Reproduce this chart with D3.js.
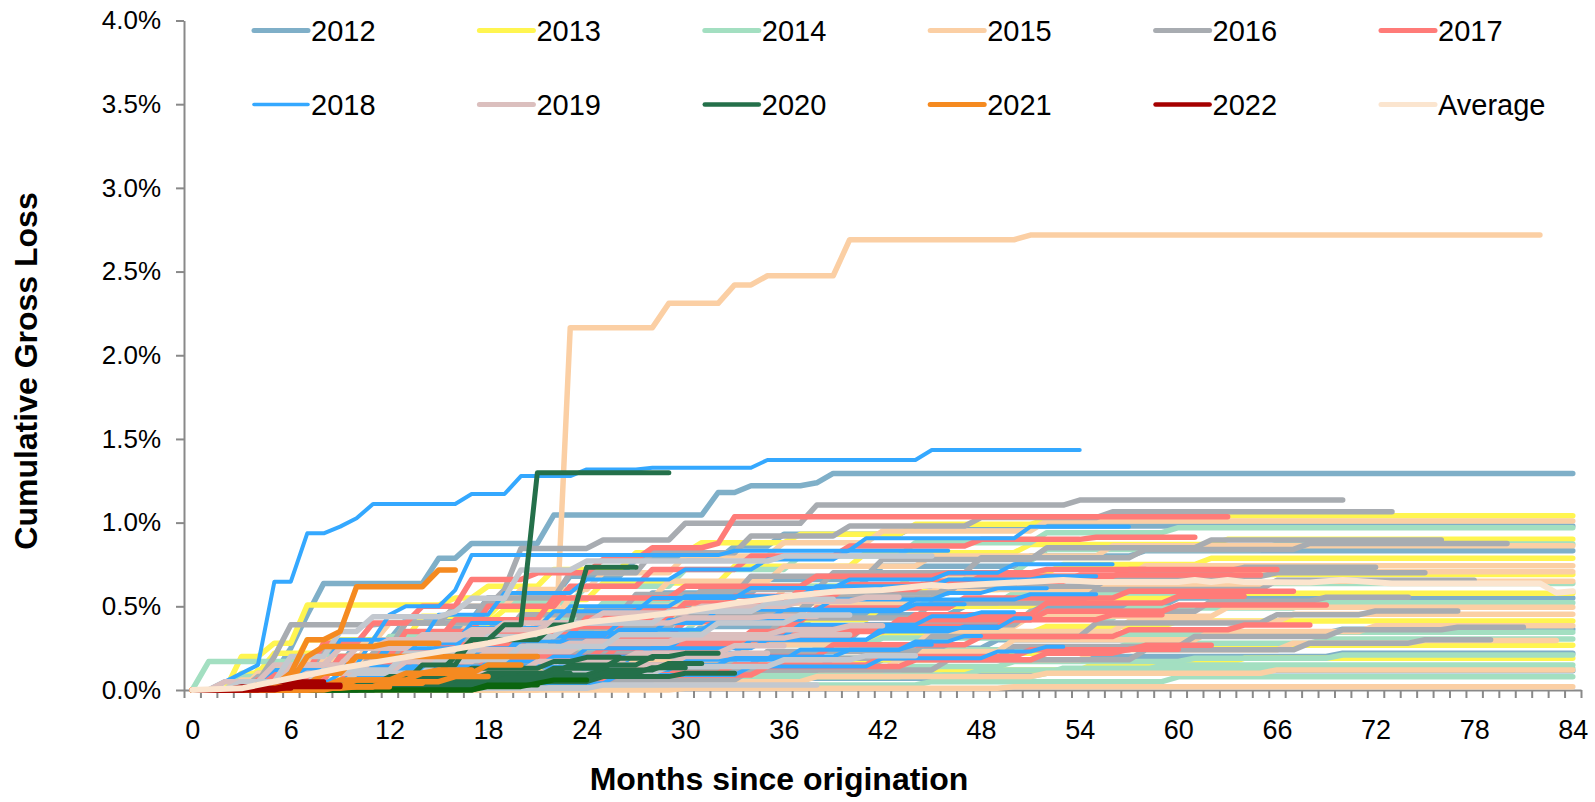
<!DOCTYPE html>
<html>
<head>
<meta charset="utf-8">
<script src="https://cdn.jsdelivr.net/npm/d3@7/dist/d3.min.js"></script>
<style>
  body { margin: 0; background: #fff; }
  #chart svg { display: block; }
  .loss-chart text { font-family: "Liberation Sans", Arial, sans-serif; fill: #000; }
  .loss-chart__axis path, .loss-chart__axis line { stroke: #898989; stroke-width: 2; }
  .loss-chart__curve { fill: none; stroke-linecap: round; stroke-linejoin: round; }
</style>
</head>
<body>
<div id="chart"></div>
<script>
// one entry per monthly vintage: [last month observed, [[month, cumulative loss % reached at that month], ...]]
// loss starts at 0 in month 0 and stays flat between the listed moves
const vint2012 = [
  [84, [[4, 0.1], [6, 0.25], [7, 0.45], [8, 0.637], [15, 0.787], [17, 0.876], [22, 1.045], [32, 1.18], [34, 1.22], [38, 1.238], [39, 1.294]]],
  [84, [[3, 0.08], [6, 0.18], [9, 0.3], [13, 0.42], [18, 0.55], [23, 0.68], [27, 0.78], [33, 0.86], [36, 0.93], [44, 0.98]]],
  [84, [[2, 0.05], [5, 0.15], [10, 0.28], [16, 0.38], [21, 0.47], [28, 0.58], [35, 0.66], [42, 0.74], [51, 0.8], [58, 0.832]]],
  [84, [[5, 0.05], [11, 0.14], [17, 0.22], [24, 0.3], [31, 0.38], [38, 0.45], [47, 0.5], [60, 0.55]]],
  [84, [[6, 0.03], [13, 0.07], [21, 0.13], [29, 0.19], [38, 0.25], [49, 0.3], [61, 0.34], [70, 0.363]]],
  [84, [[8, 0.04], [18, 0.09], [30, 0.14], [42, 0.18], [55, 0.2], [70, 0.22]]],
  [84, [[9, 0.02], [22, 0.04], [34, 0.07], [46, 0.1], [57, 0.115]]]
];
const vint2013 = [
  [84, [[3, 0.2], [5, 0.28], [7, 0.508], [16, 0.55], [18, 0.62], [22, 0.72], [27, 0.82], [31, 0.88], [37, 0.93], [44, 0.99], [52, 1.02], [61, 1.041]]],
  [84, [[3, 0.1], [5, 0.22], [9, 0.3], [14, 0.44], [19, 0.54], [25, 0.64], [33, 0.74], [41, 0.82], [51, 0.87], [63, 0.9]]],
  [84, [[4, 0.12], [7, 0.3], [12, 0.4], [19, 0.48], [26, 0.55], [34, 0.62], [44, 0.7], [53, 0.75], [62, 0.787]]],
  [84, [[4, 0.08], [9, 0.2], [15, 0.32], [22, 0.42], [30, 0.52], [40, 0.6], [50, 0.66], [58, 0.69]]],
  [84, [[5, 0.05], [10, 0.15], [16, 0.25], [24, 0.35], [32, 0.42], [42, 0.5], [52, 0.55], [60, 0.578]]],
  [84, [[6, 0.05], [14, 0.12], [22, 0.2], [32, 0.28], [42, 0.34], [52, 0.38], [60, 0.412]]],
  [84, [[8, 0.02], [16, 0.06], [26, 0.12], [36, 0.18], [46, 0.22], [56, 0.25], [64, 0.267]]],
  [84, [[10, 0.01], [22, 0.04], [33, 0.08], [44, 0.12], [55, 0.16], [64, 0.189]]]
];
const vint2014 = [
  [84, [[4, 0.1], [8, 0.25], [13, 0.4], [18, 0.52], [24, 0.62], [30, 0.72], [37, 0.8], [44, 0.88], [52, 0.94], [60, 0.97]]],
  [84, [[3, 0.08], [7, 0.2], [12, 0.32], [18, 0.42], [25, 0.52], [33, 0.62], [41, 0.7], [51, 0.77], [52, 0.84], [66, 0.872]]],
  [84, [[5, 0.06], [10, 0.15], [16, 0.25], [23, 0.35], [31, 0.44], [40, 0.52], [50, 0.58], [62, 0.637]]],
  [84, [[6, 0.05], [12, 0.12], [19, 0.2], [27, 0.28], [36, 0.36], [46, 0.43], [57, 0.49], [68, 0.522]]],
  [84, [[1, 0.17], [10, 0.2], [20, 0.23], [30, 0.27], [42, 0.31], [55, 0.33], [66, 0.345]]],
  [84, [[8, 0.03], [16, 0.08], [25, 0.13], [35, 0.19], [46, 0.24], [57, 0.28], [69, 0.305]]],
  [84, [[9, 0.02], [18, 0.05], [28, 0.1], [39, 0.14], [50, 0.17], [61, 0.19], [70, 0.209]]],
  [84, [[12, 0.02], [24, 0.05], [36, 0.09], [48, 0.12], [59, 0.149]]],
  [84, [[20, 0.02], [26, 0.06], [35, 0.08], [52, 0.1], [53, 0.13]]],
  [84, [[15, 0.01], [30, 0.03], [45, 0.05], [60, 0.079]]]
];
const vint2015 = [
  [82, [[22, 0.03], [23, 2.165], [29, 2.31], [33, 2.42], [35, 2.475], [40, 2.69], [51, 2.718]]],
  [84, [[4, 0.1], [8, 0.28], [12, 0.4], [16, 0.5], [20, 0.6], [25, 0.7], [30, 0.8], [36, 0.88], [42, 0.95], [52, 1.01]]],
  [84, [[3, 0.06], [7, 0.18], [11, 0.3], [17, 0.42], [23, 0.55], [29, 0.65], [36, 0.74], [45, 0.8], [56, 0.862]]],
  [84, [[5, 0.08], [9, 0.18], [15, 0.3], [21, 0.4], [28, 0.5], [36, 0.6], [45, 0.68], [58, 0.743]]],
  [84, [[4, 0.05], [10, 0.15], [17, 0.27], [25, 0.4], [33, 0.52], [42, 0.62], [52, 0.68], [62, 0.707]]],
  [84, [[5, 0.06], [11, 0.18], [18, 0.3], [26, 0.42], [35, 0.52], [45, 0.6], [56, 0.63], [66, 0.65]]],
  [84, [[6, 0.04], [13, 0.12], [21, 0.2], [30, 0.3], [40, 0.38], [51, 0.44], [63, 0.494]]],
  [84, [[7, 0.03], [15, 0.1], [24, 0.18], [34, 0.27], [45, 0.35], [57, 0.41], [67, 0.452]]],
  [84, [[8, 0.03], [17, 0.08], [27, 0.15], [38, 0.23], [50, 0.3], [62, 0.35], [72, 0.384]]],
  [83, [[10, 0.02], [20, 0.06], [31, 0.12], [43, 0.18], [55, 0.24], [67, 0.28], [75, 0.295]]],
  [84, [[12, 0.02], [25, 0.05], [38, 0.08], [52, 0.1], [66, 0.12]]],
  [84, [[30, 0.01], [50, 0.02]]]
];
const vint2016 = [
  [70, [[3, 0.05], [5, 0.2], [6, 0.39], [12, 0.4], [16, 0.5], [19, 0.6], [20, 0.846], [25, 0.896], [30, 0.996], [38, 1.105], [54, 1.135]]],
  [73, [[4, 0.08], [8, 0.25], [13, 0.4], [18, 0.55], [23, 0.7], [28, 0.82], [34, 0.92], [40, 0.98], [48, 1.03], [56, 1.065]]],
  [76, [[5, 0.06], [9, 0.2], [14, 0.33], [20, 0.45], [27, 0.57], [34, 0.68], [42, 0.78], [52, 0.85], [62, 0.896]]],
  [80, [[6, 0.1], [11, 0.22], [17, 0.35], [24, 0.48], [31, 0.6], [39, 0.7], [48, 0.79], [58, 0.84], [68, 0.876]]],
  [72, [[5, 0.04], [10, 0.14], [16, 0.25], [23, 0.37], [30, 0.48], [38, 0.58], [47, 0.66], [57, 0.71], [64, 0.733]]],
  [75, [[7, 0.05], [14, 0.15], [22, 0.3], [30, 0.45], [38, 0.55], [46, 0.62], [56, 0.68], [66, 0.7]]],
  [78, [[7, 0.04], [13, 0.12], [20, 0.22], [28, 0.33], [36, 0.43], [45, 0.52], [55, 0.6], [66, 0.655]]],
  [74, [[8, 0.03], [15, 0.1], [23, 0.2], [32, 0.3], [41, 0.39], [51, 0.47], [62, 0.53], [69, 0.554]]],
  [77, [[9, 0.03], [17, 0.08], [26, 0.15], [35, 0.23], [45, 0.32], [55, 0.4], [66, 0.45], [72, 0.472]]],
  [81, [[10, 0.02], [19, 0.06], [29, 0.12], [39, 0.19], [50, 0.26], [61, 0.32], [70, 0.36], [77, 0.375]]],
  [79, [[11, 0.02], [22, 0.06], [34, 0.12], [46, 0.18], [58, 0.24], [68, 0.28], [75, 0.3]]]
];
const vint2017 = [
  [63, [[5, 0.1], [8, 0.28], [11, 0.4], [14, 0.5], [17, 0.66], [21, 0.7], [25, 0.78], [28, 0.85], [32, 0.876], [33, 1.035]]],
  [61, [[4, 0.06], [9, 0.2], [13, 0.35], [18, 0.5], [23, 0.62], [28, 0.72], [34, 0.8], [40, 0.86], [48, 0.9], [55, 0.912]]],
  [58, [[4, 0.05], [8, 0.15], [12, 0.3], [16, 0.42], [22, 0.55], [30, 0.62], [38, 0.68], [46, 0.7], [52, 0.72]]],
  [66, [[5, 0.05], [10, 0.15], [15, 0.27], [21, 0.38], [27, 0.48], [33, 0.56], [40, 0.63], [48, 0.68], [57, 0.72]]],
  [65, [[3, 0.03], [8, 0.12], [13, 0.24], [18, 0.33], [24, 0.43], [30, 0.52], [37, 0.6], [45, 0.65], [54, 0.687]]],
  [67, [[6, 0.04], [11, 0.12], [17, 0.22], [23, 0.32], [30, 0.41], [38, 0.49], [47, 0.55], [57, 0.59]]],
  [64, [[6, 0.03], [12, 0.1], [20, 0.2], [28, 0.3], [36, 0.38], [44, 0.45], [52, 0.52], [60, 0.56]]],
  [69, [[7, 0.03], [13, 0.1], [19, 0.18], [26, 0.27], [34, 0.35], [43, 0.42], [52, 0.47], [60, 0.508]]],
  [59, [[5, 0.04], [11, 0.1], [18, 0.18], [25, 0.25], [33, 0.32], [41, 0.38], [50, 0.42], [56, 0.45]]],
  [68, [[8, 0.02], [15, 0.07], [22, 0.13], [30, 0.2], [39, 0.27], [48, 0.32], [57, 0.36], [64, 0.388]]],
  [62, [[9, 0.02], [16, 0.05], [24, 0.1], [33, 0.15], [42, 0.2], [51, 0.24], [58, 0.267]]],
  [60, [[10, 0.02], [18, 0.05], [26, 0.09], [35, 0.14], [44, 0.18], [52, 0.22], [57, 0.243]]]
];
const vint2018 = [
  [54, [[2, 0.05], [3, 0.1], [4, 0.15], [5, 0.647], [7, 0.936], [9, 0.976], [10, 1.026], [11, 1.111], [17, 1.171], [20, 1.278], [24, 1.318], [28, 1.328], [35, 1.374], [45, 1.434]]],
  [57, [[4, 0.05], [6, 0.15], [11, 0.3], [15, 0.45], [19, 0.58], [24, 0.66], [30, 0.72], [35, 0.78], [40, 0.836], [41, 0.906], [51, 0.976]]],
  [46, [[3, 0.05], [5, 0.12], [9, 0.3], [12, 0.45], [13, 0.5], [16, 0.597], [17, 0.806], [33, 0.832]]],
  [56, [[4, 0.04], [8, 0.12], [12, 0.25], [17, 0.37], [22, 0.47], [28, 0.55], [34, 0.61], [40, 0.66], [46, 0.7], [50, 0.751]]],
  [55, [[3, 0.04], [7, 0.15], [12, 0.28], [17, 0.4], [23, 0.5], [30, 0.56], [38, 0.62], [46, 0.66], [52, 0.68]]],
  [52, [[5, 0.04], [10, 0.12], [15, 0.22], [20, 0.32], [26, 0.4], [32, 0.48], [39, 0.54], [46, 0.58], [49, 0.608]]],
  [55, [[6, 0.05], [11, 0.14], [17, 0.25], [23, 0.34], [29, 0.42], [36, 0.48], [44, 0.54], [51, 0.572]]],
  [47, [[4, 0.03], [9, 0.1], [14, 0.2], [20, 0.29], [26, 0.36], [32, 0.42], [38, 0.47], [44, 0.512]]],
  [50, [[7, 0.03], [12, 0.09], [18, 0.17], [24, 0.25], [30, 0.32], [37, 0.39], [45, 0.44], [48, 0.464]]],
  [51, [[8, 0.02], [14, 0.07], [20, 0.14], [27, 0.22], [34, 0.3], [42, 0.37], [50, 0.428]]],
  [49, [[5, 0.03], [10, 0.08], [16, 0.14], [22, 0.2], [28, 0.25], [35, 0.3], [42, 0.35], [47, 0.38]]],
  [48, [[9, 0.02], [16, 0.06], [23, 0.12], [30, 0.18], [37, 0.24], [44, 0.29], [47, 0.323]]],
  [45, [[6, 0.02], [12, 0.05], [19, 0.1], [26, 0.15], [33, 0.2], [40, 0.24], [44, 0.27]]],
  [53, [[10, 0.01], [18, 0.04], [26, 0.09], [34, 0.14], [42, 0.19], [49, 0.23], [52, 0.259]]]
];
const vint2019 = [
  [43, [[3, 0.05], [6, 0.15], [10, 0.25], [14, 0.33], [19, 0.4], [25, 0.46], [31, 0.5], [37, 0.53], [41, 0.554]]],
  [42, [[4, 0.03], [8, 0.1], [13, 0.17], [18, 0.23], [24, 0.29], [30, 0.33], [36, 0.36], [40, 0.384]]],
  [36, [[5, 0.02], [10, 0.06], [15, 0.11], [21, 0.17], [27, 0.22], [33, 0.265]]],
  [35, [[6, 0.02], [12, 0.05], [18, 0.1], [24, 0.15], [30, 0.2], [33, 0.219]]],
  [38, [[2, 0.05], [5, 0.15], [9, 0.25], [12, 0.3], [17, 0.36], [22, 0.4], [30, 0.43], [35, 0.44]]],
  [40, [[3, 0.05], [7, 0.1], [11, 0.18], [17, 0.24], [23, 0.28], [30, 0.31], [37, 0.33]]]
];
// 2019 vintages that the workbook shows in a lighter grey
const vint2019b = [
  [45, [[3, 0.05], [6, 0.2], [9, 0.35], [11, 0.438], [16, 0.468], [17, 0.548], [20, 0.717], [24, 0.77], [36, 0.8]]],
  [39, [[4, 0.04], [8, 0.12], [13, 0.22], [18, 0.32], [23, 0.4], [29, 0.47], [35, 0.52], [37, 0.542]]],
  [40, [[5, 0.03], [10, 0.1], [15, 0.18], [20, 0.26], [26, 0.33], [32, 0.4], [37, 0.448]]],
  [44, [[8, 0.02], [15, 0.06], [22, 0.1], [29, 0.14], [36, 0.18], [41, 0.205]]],
  [38, [[10, 0.01], [25, 0.03]]]
];
const vint2020 = [
  [29, [[8, 0.03], [13, 0.1], [16, 0.2], [17, 0.3], [19, 0.39], [21, 1.298]]],
  [27, [[10, 0.05], [14, 0.15], [17, 0.3], [22, 0.388], [24, 0.733]]],
  [32, [[6, 0.02], [12, 0.06], [18, 0.1], [23, 0.15], [28, 0.2], [30, 0.219]]],
  [31, [[8, 0.02], [14, 0.05], [20, 0.09], [25, 0.12], [29, 0.159]]],
  [33, [[10, 0.02], [18, 0.05], [25, 0.08], [30, 0.1]]],
  [26, [[7, 0.03], [12, 0.08], [17, 0.13], [22, 0.17], [24, 0.195]]],
  [23, [[9, 0.02], [15, 0.05], [20, 0.08], [22, 0.1]]],
  [28, [[11, 0.03], [17, 0.08], [22, 0.13], [26, 0.189]]],
  [30, [[12, 0.03], [19, 0.07], [25, 0.1], [28, 0.133]]]
];
const vint2020b = [
  [24, [[18, 0.02], [21, 0.04], [22, 0.06]]],
  [21, [[18, 0.03]]]
];
const vint2021 = [
  [16, [[4, 0.03], [6, 0.1], [7, 0.3], [9, 0.35], [10, 0.617], [15, 0.717]]],
  [21, [[5, 0.03], [8, 0.1], [10, 0.2]]],
  [20, [[6, 0.02], [10, 0.06], [14, 0.1], [18, 0.15]]],
  [15, [[5, 0.05], [7, 0.2], [8, 0.26], [12, 0.28]]],
  [18, [[8, 0.02], [12, 0.05], [16, 0.08]]],
  [14, [[9, 0.02], [12, 0.04]]],
  [12, [[8, 0.01], [10, 0.02]]],
  [17, [[6, 0.02], [9, 0.06], [13, 0.1], [15, 0.12]]]
];
const vint2022 = [
  [9, [[4, 0.01], [6, 0.03]]],
  [8, [[3, 0.02], [5, 0.05]]],
  [6, [[4, 0.01]]],
  [4, []],
  [9, [[6, 0.02]]]
];
// average curve, read month by month
const averageCurve = [
  [0, 0], [3, 0.01], [6, 0.07], [9, 0.13], [12, 0.18], [15, 0.229], [18, 0.279], [21, 0.339],
  [24, 0.405], [27, 0.435], [30, 0.47], [33, 0.518], [36, 0.557], [39, 0.587], [42, 0.597],
  [45, 0.627], [46, 0.62], [48, 0.632], [51, 0.647], [53, 0.657], [55, 0.645], [60, 0.645],
  [61, 0.657], [62, 0.645], [63, 0.657], [64, 0.645], [68, 0.642], [70, 0.657], [73, 0.637],
  [82, 0.637], [83, 0.581], [84, 0.59]
];

const legendLabels = ['2012', '2013', '2014', '2015', '2016', '2017', '2018', '2019', '2020', '2021', '2022', 'Average'];
const yTicks = [0, 0.5, 1, 1.5, 2, 2.5, 3, 3.5, 4];
const xLabelTicks = [0, 6, 12, 18, 24, 30, 36, 42, 48, 54, 60, 66, 72, 78, 84];

class LossCurves {
  constructor(el) {
    this.el = el;
    this.width = 1595;
    this.height = 802;
    this.x = d3.scaleLinear().domain([-0.5, 84.5]).range([184, 1581]);
    this.y = d3.scaleLinear().domain([0, 4]).range([690, 20.5]);
    this.groups = [
      { data: vint2012, color: '#7FAFC8', width: 5.5 },
      { data: vint2013, color: '#FFF550', width: 5.5 },
      { data: vint2014, color: '#A3DFC1', width: 5.5 },
      { data: vint2015, color: '#FBCFA4', width: 5.5 },
      { data: vint2016, color: '#A8ACB1', width: 5.5 },
      { data: vint2017, color: '#FF7B78', width: 5.5 },
      { data: vint2018, color: '#34A8FF', width: 4 },
      { data: vint2019, color: '#DBBFBE', width: 5.5 },
      { data: vint2019b, color: '#C3C8CF', width: 5.5 },
      { data: vint2020, color: '#24704A', width: 5 },
      { data: vint2020b, color: '#0B650F', width: 5 },
      { data: vint2021, color: '#F58A20', width: 5.5 },
      { data: vint2022, color: '#A50000', width: 5 }
    ];
    this.legendStyles = [
      ['#7FAFC8', 5], ['#FFF550', 5], ['#A3DFC1', 5], ['#FBCFA4', 5], ['#A8ACB1', 5], ['#FF7B78', 5],
      ['#34A8FF', 3.6], ['#DBBFBE', 5], ['#24704A', 4.6], ['#F58A20', 5], ['#A50000', 4.6], ['#FBE5CF', 5]
    ];
  }

  render() {
    this.svg = d3.select(this.el).append('svg')
        .attr('width', this.width)
        .attr('height', this.height)
        .attr('class', 'loss-chart');

    this.drawAxes();
    this.drawCurves();
    this.drawLegend();
  }

  stepsToPoints(end, steps) {
    const pts = [[0, 0]];
    let prev = 0;
    steps.forEach(([m, v]) => {
      if (m - 1 > pts[pts.length - 1][0]) pts.push([m - 1, prev]);
      pts.push([m, v]);
      prev = v;
    });
    if (end > pts[pts.length - 1][0]) pts.push([end, prev]);
    return pts;
  }

  drawAxes() {
    const yAxis = this.svg.append('g')
        .attr('class', 'loss-chart__axis')
        .attr('transform', `translate(${this.x(-0.5)},0)`)
        .call(d3.axisLeft(this.y)
          .tickValues(yTicks)
          .tickFormat(d => `${d3.format('.1f')(d)}%`)
          .tickSize(8)
          .tickSizeOuter(0)
          .tickPadding(15));
    yAxis.selectAll('text').style('font-size', '26px');

    this.svg.append('g')
        .attr('class', 'loss-chart__axis')
        .attr('transform', `translate(0,${this.y(0)})`)
        .call(d3.axisBottom(this.x)
          .tickValues(d3.range(-0.5, 85, 1))
          .tickFormat('')
          .tickSize(8)
          .tickSizeOuter(0));

    const xLabels = this.svg.append('g')
        .attr('class', 'loss-chart__axis')
        .attr('transform', `translate(0,${this.y(0)})`)
        .call(d3.axisBottom(this.x)
          .tickValues(xLabelTicks)
          .tickSize(0)
          .tickPadding(30));
    xLabels.select('.domain').remove();
    xLabels.selectAll('text').style('font-size', '27px');

    this.svg.append('text')
        .attr('x', 779)
        .attr('y', 779)
        .attr('text-anchor', 'middle')
        .attr('dominant-baseline', 'central')
        .style('font-size', '32px')
        .style('font-weight', 'bold')
        .text('Months since origination');

    this.svg.append('text')
        .attr('transform', 'translate(26,371) rotate(-90)')
        .attr('text-anchor', 'middle')
        .attr('dominant-baseline', 'central')
        .style('font-size', '32px')
        .style('font-weight', 'bold')
        .text('Cumulative Gross Loss');
  }

  drawCurves() {
    const line = d3.line()
        .x(d => this.x(d[0]))
        .y(d => this.y(d[1]));

    const curves = this.svg.append('g').attr('class', 'loss-chart__curves');

    this.groups.forEach(group => {
      curves.append('g')
        .selectAll('path')
          .data(group.data)
        .enter().append('path')
          .attr('class', 'loss-chart__curve')
          .attr('d', d => line(this.stepsToPoints(d[0], d[1])))
          .attr('stroke', group.color)
          .attr('stroke-width', group.width);
    });

    curves.append('path')
        .datum(averageCurve)
        .attr('class', 'loss-chart__curve')
        .attr('d', line)
        .attr('stroke', '#FBE5CF')
        .attr('stroke-width', 6);
  }

  drawLegend() {
    const legend = this.svg.append('g').attr('class', 'loss-chart__legend');
    const item = legend.selectAll('g')
        .data(legendLabels)
      .enter().append('g')
        .attr('transform', (d, i) => `translate(${254 + (i % 6) * 225.4},${i < 6 ? 30.5 : 104.5})`);

    item.append('line')
        .attr('x1', 0)
        .attr('x2', 54)
        .attr('stroke', (d, i) => this.legendStyles[i][0])
        .attr('stroke-width', (d, i) => this.legendStyles[i][1])
        .attr('stroke-linecap', 'round');

    item.append('text')
        .attr('x', 57)
        .attr('dominant-baseline', 'central')
        .style('font-size', '29px')
        .text(d => d);
  }
}

new LossCurves('#chart').render();
</script>
</body>
</html>
